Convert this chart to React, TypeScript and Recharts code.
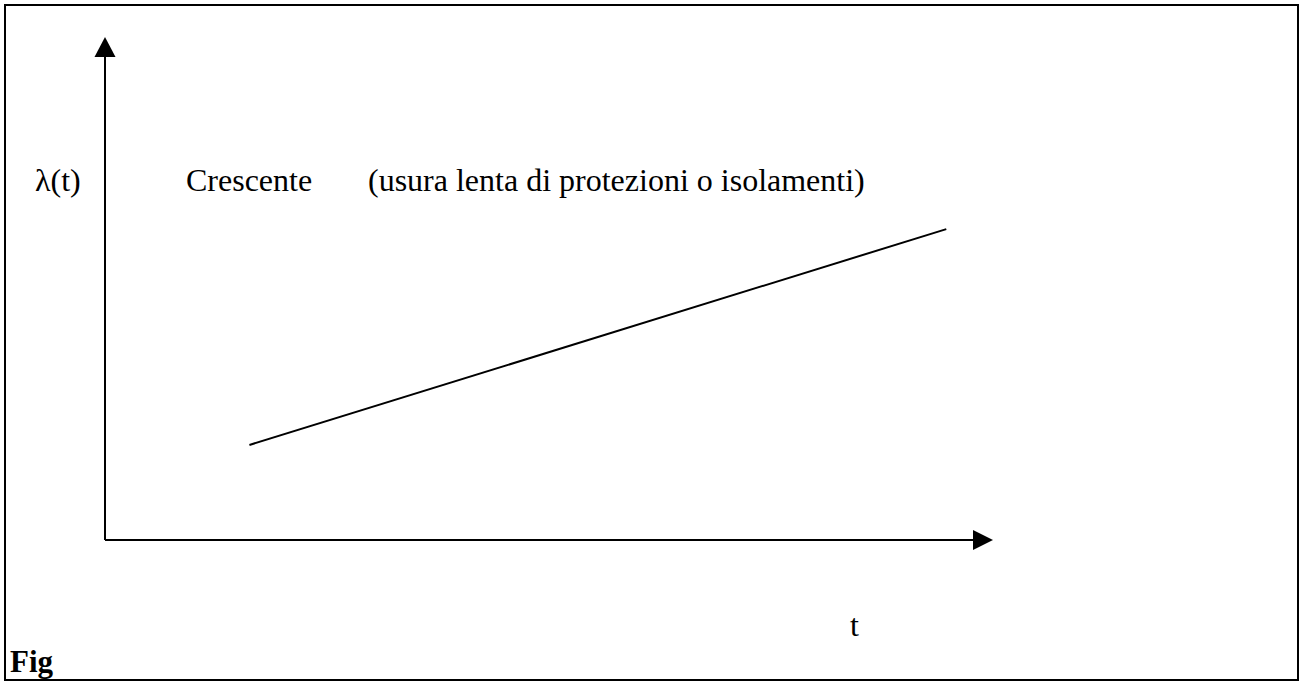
import { LineChart, Line, XAxis, YAxis, ReferenceDot } from 'recharts';

// Curva del tasso di guasto crescente (usura)
const TIME = [1.66, 9.67];
const LAMBDA = [1.96, 6.41];

const X_DOMAIN: [number, number] = [0, 10];
const Y_DOMAIN: [number, number] = [0, 10];

const Y_LABEL = 'λ(t)';
const X_LABEL = 't';
const TREND = 'Crescente';
const NOTE = '(usura lenta di protezioni o isolamenti)';
const CAPTION = 'Fig';

const data = TIME.map((t, i) => ({ t, lambda: LAMBDA[i] }));

const W = 1303;
const H = 682;
const FONT = "'Liberation Serif', 'Times New Roman', Times, serif";

// punte delle frecce sugli assi
function ArrowUp({ cx, cy }: { cx?: number; cy?: number }) {
  if (cx == null || cy == null) return null;
  return <polygon points={`${cx},${cy - 18} ${cx - 10.5},${cy + 2} ${cx + 10.5},${cy + 2}`} fill="#000" />;
}

function ArrowRight({ cx, cy }: { cx?: number; cy?: number }) {
  if (cx == null || cy == null) return null;
  return <polygon points={`${cx - 2},${cy - 10} ${cx - 2},${cy + 10} ${cx + 18},${cy}`} fill="#000" />;
}

export default function App() {
  return (
    <div style={{ position: 'fixed', left: 0, top: 0, width: W, height: H, background: '#fff' }}>
      <div
        style={{
          position: 'absolute',
          left: 4,
          top: 4,
          width: 1295,
          height: 677,
          border: '2px solid #000',
          boxSizing: 'border-box',
        }}
      />
      <div style={{ position: 'absolute', left: 0, top: 0 }}>
        <LineChart
          width={W}
          height={H}
          data={data}
          margin={{ top: 55, left: 104, right: W - 975, bottom: H - 541 }}
          style={{ overflow: 'visible' }}
        >
          <XAxis
            type="number"
            dataKey="t"
            domain={X_DOMAIN}
            allowDataOverflow
            height={1}
            tick={false}
            tickLine={false}
            axisLine={{ stroke: '#000', strokeWidth: 2 }}
          />
          <YAxis
            type="number"
            domain={Y_DOMAIN}
            allowDataOverflow
            width={1}
            tick={false}
            tickLine={false}
            axisLine={{ stroke: '#000', strokeWidth: 2 }}
          />
          <Line
            type="linear"
            dataKey="lambda"
            stroke="#000"
            strokeWidth={2}
            dot={false}
            activeDot={false}
            isAnimationActive={false}
          />
          <ReferenceDot x={X_DOMAIN[0]} y={Y_DOMAIN[1]} shape={(p: any) => <ArrowUp cx={p.cx} cy={p.cy} />} ifOverflow="visible" />
          <ReferenceDot x={X_DOMAIN[1]} y={Y_DOMAIN[0]} shape={(p: any) => <ArrowRight cx={p.cx} cy={p.cy} />} ifOverflow="visible" />
        </LineChart>
      </div>
      <svg width={W} height={H} style={{ position: 'absolute', left: 0, top: 0, pointerEvents: 'none' }}>
        <g style={{ fontFamily: FONT, fontSize: 32 }} fill="#000">
          <text x={35} y={191}>{Y_LABEL}</text>
          <text x={186} y={191}>{TREND}</text>
          <text x={368} y={191}>{NOTE}</text>
          <text x={850} y={636}>{X_LABEL}</text>
          <text x={10} y={672} style={{ fontWeight: 'bold', fontSize: 31 }}>{CAPTION}</text>
        </g>
      </svg>
    </div>
  );
}
